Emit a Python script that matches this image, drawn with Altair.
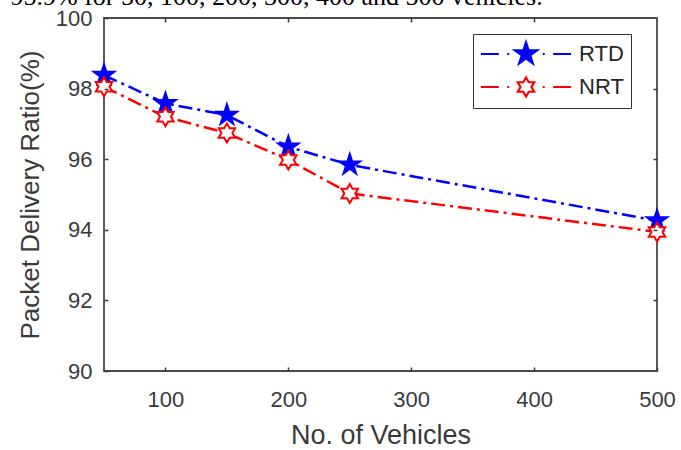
import altair as alt
import pandas as pd

# ---- data ----
vehicles = [50, 100, 150, 200, 250, 500]
rtd = [98.38, 97.58, 97.25, 96.35, 95.84, 94.26]
nrt = [98.05, 97.20, 96.74, 95.98, 95.03, 93.94]
series_names = ["RTD", "NRT"]
x_tick_values = [100, 200, 300, 400, 500]
y_tick_values = [90, 92, 94, 96, 98, 100]
x_inner_ticks = [100, 200, 300, 400]
y_inner_ticks = [92, 94, 96, 98]
header_text = "95.9% for 50, 100, 200, 300, 400 and 500 vehicles."
x_title = "No. of Vehicles"
y_title = "Packet Delivery Ratio(%)"

# ---- styles ----
series_colors = ["#0000ff", "#ff0000"]
AX = "#3a3a3a"
FONT = "Liberation Sans"
W, H = 553, 353

PENT = [(0, -1), (0.2245, -0.309), (0.9511, -0.309), (0.3633, 0.118), (0.5878, 0.809),
        (0, 0.382), (-0.5878, 0.809), (-0.3633, 0.118), (-0.9511, -0.309), (-0.2245, -0.309)]
HEX = [(0, -1), (0.2887, -0.5), (0.866, -0.5), (0.5774, 0), (0.866, 0.5), (0.2887, 0.5),
       (0, 1), (-0.2887, 0.5), (-0.866, 0.5), (-0.5774, 0), (-0.866, -0.5), (-0.2887, -0.5)]


def poly(pts, k=1.0):
    return "M" + "L".join(f"{x * k:.4f},{y * k:.4f}" for x, y in pts) + "Z"


LINE_PARTS = "M-3.9,0L-2.35,0M-1.62,0L-1.45,0M1.45,0L1.62,0M2.35,0L3.9,0"
pent_path = poly(PENT)
hex_path = poly(HEX)
legend_paths = [LINE_PARTS + "".join(poly(PENT, k) for k in (1.0, 0.8, 0.6, 0.4, 0.2)),
                LINE_PARTS + poly(HEX, 0.82)]

df = pd.DataFrame({
    "vehicles": vehicles * 2,
    "pdr": rtd + nrt,
    "series": [series_names[0]] * len(vehicles) + [series_names[1]] * len(vehicles),
})

x_scale = alt.Scale(domain=[50, 500], nice=False, zero=False)
y_scale = alt.Scale(domain=[90, 100], nice=False, zero=False)

tick_style = dict(ticks=True, tickSize=4, tickWidth=1.5, tickColor=AX, offset=-4,
                  grid=False, domain=False, zindex=2)
x_axis = alt.Axis(
    values=x_tick_values, title=x_title, **tick_style,
    labelFont=FONT, labelFontSize=22, labelColor=AX, labelPadding=18, labelFlush=False,
    labelOverlap=False, titleFont=FONT, titleFontSize=27, titleFontWeight="normal",
    titleColor=AX, titlePadding=12)
y_axis = alt.Axis(
    values=y_tick_values, title=y_title, **tick_style,
    labelFont=FONT, labelFontSize=22, labelColor=AX, labelPadding=12, labelFlush=False,
    labelOverlap=False, titleFont=FONT, titleFontSize=26, titleFontWeight="normal",
    titleColor=AX, titlePadding=12)
# top axis: inner ticks, plus the partly cropped caption line above the figure
x_top = alt.Axis(orient="top", values=x_inner_ticks, labels=False, title=header_text,
                 titleFont="Liberation Serif", titleFontSize=26, titleFontWeight="normal",
                 titleColor="#000000", titleAlign="left", titleAnchor="start",
                 titleBaseline="alphabetic", titleAngle=0, titleX=-94, titleY=-17.5,
                 **tick_style)
y_right = alt.Axis(orient="right", values=y_inner_ticks, labels=False, title=None, **tick_style)

x_main = alt.X("vehicles:Q", scale=x_scale, axis=x_axis)
y_main = alt.Y("pdr:Q", scale=y_scale, axis=y_axis)
x_plain = alt.X("vehicles:Q", scale=x_scale, axis=None)
y_plain = alt.Y("pdr:Q", scale=y_scale, axis=None)
color_scale = alt.Scale(domain=series_names, range=series_colors)

base = alt.Chart(df)
rtd_data = base.transform_filter(alt.datum.series == series_names[0])
nrt_data = base.transform_filter(alt.datum.series == series_names[1])

line_rtd = rtd_data.mark_line(strokeWidth=2.5, strokeDash=[14, 5, 3, 5], color=series_colors[0]).encode(
    x=x_main, y=y_main)
line_nrt = nrt_data.mark_line(strokeWidth=2.5, strokeDash=[14, 5, 3, 5], color=series_colors[1]).encode(
    x=x_plain, y=y_plain)

rtd_pts = rtd_data.mark_point(
    shape=pent_path, size=535, filled=True, fill=series_colors[0], stroke=series_colors[0],
    strokeWidth=1.5, opacity=1).encode(x=x_plain, y=y_plain)
nrt_pts = nrt_data.mark_point(
    shape=hex_path, size=361, filled=True, fill="#ffffff", stroke=series_colors[1],
    strokeWidth=2, opacity=1).encode(x=x_plain, y=y_plain)

leg = alt.Legend(title=None, orient="none", legendX=369, legendY=16, fillColor="#ffffff",
                 strokeColor="#333333", padding=7, rowPadding=5, symbolSize=535,
                 symbolStrokeWidth=2.2, symbolOpacity=1, symbolOffset=33, labelOffset=40,
                 labelFont=FONT, labelFontSize=22, labelColor="#262626")

legend_layer = base.mark_point(opacity=0, filled=False).encode(
    x=alt.X("vehicles:Q", scale=x_scale, axis=x_top),
    y=alt.Y("pdr:Q", scale=y_scale, axis=y_right),
    color=alt.Color("series:N", scale=color_scale, legend=leg),
    shape=alt.Shape("series:N", scale=alt.Scale(domain=series_names, range=legend_paths), legend=leg),
)

chart = alt.layer(line_rtd, line_nrt, rtd_pts, nrt_pts, legend_layer).resolve_axis(
    x="independent", y="independent"
).properties(
    width=W, height=H,
    padding={"left": 104, "top": 18, "right": 24, "bottom": 79},
    autosize=alt.AutoSizeParams(type="none"),
    background="white",
).configure_view(stroke="#4a4a4a", strokeWidth=1.8)

chart.save("out.html", embed_options={"renderer": "svg", "actions": False})
